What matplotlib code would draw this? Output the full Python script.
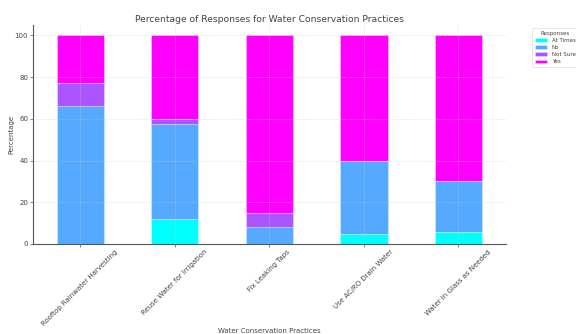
import matplotlib
matplotlib.use("Agg")
import matplotlib.pyplot as plt
import numpy as np

practices = [
    "Rooftop Rainwater Harvesting",
    "Reuse Water for Irrigation",
    "Fix Leaking Taps",
    "Use AC/RO Drain Water",
    "Water in Glass as Needed",
]
responses = ["At Times", "No", "Not Sure", "Yes"]
at_times = [0.0, 12.0, 0.0, 4.8, 5.9]
no = [66.2, 45.4, 8.3, 35.2, 24.3]
not_sure = [11.2, 2.6, 6.4, 0.0, 0.0]
yes = [22.6, 40.0, 85.3, 60.0, 69.8]

series = [at_times, no, not_sure, yes]
colors = plt.get_cmap("cool")(np.linspace(0, 1, len(responses)))

fig = plt.figure(figsize=(5.76, 3.34), dpi=100)
ax = fig.add_axes([0.0573, 0.2695, 0.8207, 0.6556])

x = np.arange(len(practices))
bottom = np.zeros(len(practices))
for name, vals, col in zip(responses, series, colors):
    vals = np.array(vals)
    ax.bar(x, vals, width=0.5, bottom=bottom, color=col, label=name,
           edgecolor=(1, 1, 1, 0.35), linewidth=0.6, zorder=1)
    bottom += vals

ax.set_xlim(-0.5, len(practices) - 0.5)
ax.set_ylim(0, 105)
ax.set_yticks([0, 20, 40, 60, 80, 100])
ax.set_xticks(x)
ax.set_xticklabels(practices, rotation=45, ha="center", fontsize=5,
                   color="#444444")
ax.tick_params(axis="y", labelsize=5, labelcolor="#444444", length=2,
               width=0.5, color="#555555", pad=1.5)
ax.tick_params(axis="x", length=2, width=0.5, color="#555555", pad=1.5)

ax.grid(True, color="#cccccc", linestyle=(0, (2, 1)), linewidth=0.5,
        alpha=0.5, zorder=3)
ax.set_axisbelow(False)

for side in ("top", "right"):
    ax.spines[side].set_visible(False)
for side in ("left", "bottom"):
    ax.spines[side].set_color("#555555")
    ax.spines[side].set_linewidth(0.8)

ax.set_title("Percentage of Responses for Water Conservation Practices",
             fontsize=6.6, color="#444444", pad=2.5)
ax.set_xlabel("Water Conservation Practices", fontsize=5, color="#444444")
ax.xaxis.set_label_coords(0.5, -0.385)
ax.set_ylabel("Percentage", fontsize=5, color="#444444", labelpad=0.5)

leg = ax.legend(title="Responses", loc="upper left", bbox_to_anchor=(1.05, 1),
                fontsize=4, title_fontsize=4, frameon=True,
                handlelength=2.2, handleheight=0.7, borderpad=0.5,
                labelspacing=0.4)
leg.get_frame().set_linewidth(0.4)
leg.get_frame().set_edgecolor("#cccccc")
for t in leg.get_texts():
    t.set_color("#444444")
leg.get_title().set_color("#444444")

fig.savefig("out.png", dpi=100)
